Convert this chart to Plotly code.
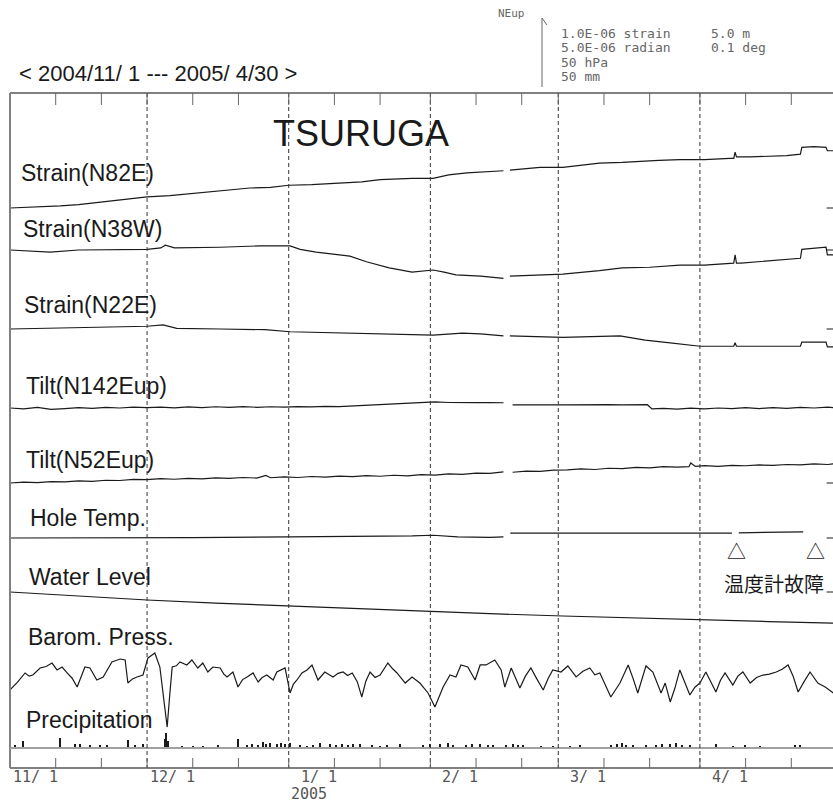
import plotly.graph_objects as go

W, H = 833, 804
PLOT_L = 10
PX_PER_DAY = 4.569
X_MAX = (W - PLOT_L) / PX_PER_DAY

# ---------------- axis data (days since 2004-11-01) ----------------
MONTH_DAYS = [0, 30, 61, 92, 120, 151]
MONTH_LABELS = ["11/\u00a01", "12/\u00a01", "\u00a01/\u00a01", "\u00a02/\u00a01", "\u00a03/\u00a01", "\u00a04/\u00a01"]
TICK_DAYS = [10, 20, 30, 40, 50, 61, 71, 81, 92, 102, 112, 120, 130, 140, 151, 161, 171]
YEAR_LABEL_DAY = 61
YEAR_LABEL = "2005"

# ---------------- series ----------------
# strain in 1e-6
N82E_DAYS = [0, 5, 11, 15, 20, 25, 30, 35, 41.6, 47, 52.5, 57, 61, 66, 72, 77, 81, 88, 92.6, 96, 100, 104, 108,
             108.7, 109.4, 113, 116, 121, 125, 129, 134, 138, 142, 146.6, 152, 157.6, 158.4, 158.7, 159.0,
             162, 166, 170, 173.0, 173.3, 176, 178.6, 178.9, 180.2]
N82E_VALS = [0.00, 0.01, 0.03, 0.05, 0.09, 0.12, 0.16, 0.18, 0.22, 0.25, 0.29, 0.30, 0.33, 0.34, 0.36, 0.38,
             0.41, 0.43, 0.43, 0.48, 0.51, 0.53, 0.54,
             None, 0.55, 0.57, 0.59, 0.59, 0.62, 0.65, 0.66, 0.68, 0.69, 0.70, 0.70, 0.72, 0.72, 0.81, 0.74,
             0.74, 0.75, 0.76, 0.78, 0.88, 0.89, 0.88, 0.83, 0.83]

N38W_DAYS = [0, 4.4, 8.8, 15, 24, 30, 33, 34, 36, 46, 54.7, 61.3, 63.5, 67, 70.7, 74.4, 78, 83, 88, 92.6, 95,
             97.6, 103, 108, 108.7, 109.4, 116, 121, 129, 134, 140, 146.6, 152, 157.6, 158.4, 158.7, 159.0,
             160, 166, 173.0, 173.3, 176, 178.6, 178.9, 180.2]
N38W_VALS = [0.00, -0.01, -0.03, 0.00, 0.00, 0.01, 0.03, 0.07, 0.03, 0.04, 0.06, 0.06, 0.01, -0.03, -0.06,
             -0.09, -0.17, -0.26, -0.32, -0.29, -0.32, -0.36, -0.38, -0.41, None, -0.38, -0.36, -0.35,
             -0.30, -0.26, -0.25, -0.22, -0.22, -0.19, -0.19, -0.07, -0.19, -0.19, -0.16, -0.12, 0.01,
             0.03, 0.04, -0.07, -0.07]

N22E_DAYS = [0, 9, 20, 30, 33.5, 36.5, 46, 55.8, 61.3, 72, 81, 89.7, 92.6, 99, 103, 108, 108.7, 109.4, 121,
             133.5, 139, 144.5, 151, 157.6, 158.4, 158.7, 159.0, 165, 173.0, 173.3, 178.6, 178.9, 180.2]
N22E_VALS = [0.00, 0.01, 0.03, 0.04, 0.06, 0.01, 0.00, -0.01, -0.04, -0.06, -0.07, -0.09, -0.09, -0.06,
             -0.07, -0.10, None, -0.10, -0.12, -0.10, -0.16, -0.20, -0.25, -0.25, -0.25, -0.20, -0.25,
             -0.25, -0.25, -0.19, -0.19, -0.26, -0.26]

# tilt in 1e-6 radian
N142E_DAYS = [0, 3, 6, 9, 12, 15, 18, 21, 24, 27, 30, 33, 36, 39, 42, 45, 48, 51, 54, 57, 60, 63, 66, 69,
              72, 75, 78, 81, 84, 87, 90, 93, 96, 99, 102, 105, 108, 108.7, 110, 113, 116, 119, 122, 125,
              128, 131, 134, 137, 139.5, 140.5, 143, 146, 149, 152, 155, 158, 161, 164, 167, 170, 173,
              176, 179, 180.2]
N142E_VALS = [0.00, -0.06, 0.05, -0.10, -0.04, 0.03, -0.03, 0.05, 0.00, 0.06, 0.02, 0.07, 0.01, 0.08,
              0.03, 0.09, 0.04, 0.10, 0.05, 0.09, 0.06, 0.10, 0.08, 0.12, 0.10, 0.15, 0.17, 0.22, 0.26,
              0.32, 0.38, 0.44, 0.40, 0.42, 0.39, 0.40, 0.38, None, 0.22, 0.24, 0.21, 0.23, 0.22, 0.24,
              0.21, 0.25, 0.23, 0.26, 0.24, -0.07, -0.02, -0.08, -0.01, -0.06, 0.00, -0.05, 0.02, -0.04,
              0.03, -0.02, 0.05, 0.00, 0.07, 0.03]

N52E_DAYS = [0, 3, 6, 9, 12, 15, 18, 21, 24, 27, 30, 33, 36, 39, 42, 45, 48, 51, 54, 56, 57, 60, 63, 66,
             69, 72, 75, 78, 81, 84, 87, 90, 93, 96, 99, 102, 105, 108, 108.7, 110, 113, 116, 119, 122,
             125, 128, 131, 134, 137, 140, 143, 146, 148.6, 149, 150, 152, 155, 158, 161, 164, 167, 170,
             173, 176, 179, 180.2]
N52E_VALS = [0.00, 0.06, 0.02, 0.10, 0.08, 0.16, 0.12, 0.20, 0.18, 0.26, 0.24, 0.31, 0.27, 0.33, 0.30,
             0.37, 0.33, 0.40, 0.36, 0.55, 0.38, 0.44, 0.40, 0.47, 0.43, 0.50, 0.46, 0.53, 0.49, 0.56,
             0.52, 0.60, 0.57, 0.66, 0.63, 0.72, 0.70, 0.80, None, 0.78, 0.86, 0.84, 0.93, 0.95, 1.02,
             0.98, 1.07, 1.04, 1.13, 1.10, 1.18, 1.15, 1.18, 1.45, 1.20, 1.26, 1.20, 1.28, 1.25, 1.31,
             1.27, 1.34, 1.31, 1.38, 1.34, 1.39]

# hole temperature change in deg
TEMP_DAYS = [0, 20, 40, 61, 75, 88, 92.6, 98, 105, 108, 108.7, 109.5, 130, 152, 158, 158.7, 159.5, 166, 173.6]
TEMP_VALS = [0.0000, 0.0000, 0.0005, 0.0015, 0.0020, 0.0030, 0.0040, 0.0015, 0.0010, 0.0015, None,
             0.0070, 0.0075, 0.0070, 0.0072, None, 0.0075, 0.0080, 0.0090]

# water level change in m
WATER_DAYS = [0, 15, 30, 45, 61, 75, 90, 105, 121, 136, 152, 166, 180.2]
WATER_VALS = [0.00, -0.30, -0.58, -0.80, -1.01, -1.20, -1.38, -1.57, -1.74, -1.89, -2.03, -2.14, -2.25]

# barometric pressure in hPa
BARO_DAYS = [0.0, 1.6, 3.3, 4.2, 5.0, 6.6, 7.9, 9.2, 10.3, 11.4, 12.5, 13.6, 14.7, 15.6, 16.4, 17.5, 19.0,
             20.4, 21.4, 22.3, 24.1, 25.2, 25.8, 26.8, 27.8, 29.1, 30.2, 31.7, 32.8, 33.6, 34.4, 35.0,
             35.5, 36.4, 37.2, 38.7, 39.8, 41.1, 42.2, 43.3, 44.4, 46.0, 46.8, 47.5, 48.8, 49.9, 50.9,
             51.9, 53.2, 54.3, 55.2, 56.2, 57.6, 58.4, 60.2, 61.3, 62.0, 62.8, 63.9, 65.0, 66.1, 67.4,
             68.9, 70.7, 71.8, 72.9, 73.9, 74.9, 76.0, 77.0, 77.9, 78.8, 79.9, 81.0, 82.7, 83.7, 84.7,
             86.5, 88.0, 89.7, 91.5, 93.0, 94.8, 96.3, 97.6, 98.7, 100.2, 101.8, 102.9, 104.2, 106.1,
             107.5, 108.3, 109.7, 110.6, 111.6, 112.8, 114.0, 115.3, 116.7, 117.8, 118.8, 120.6, 122.1,
             123.9, 125.4, 126.9, 128.0, 129.1, 130.3, 131.5, 133.5, 135.3, 136.4, 137.4, 139.2, 140.7,
             142.5, 143.4, 144.5, 145.5, 146.6, 147.7, 148.8, 149.9, 151.0, 152.3, 154.5, 155.5, 156.5,
             158.2, 159.3, 160.4, 162.0, 163.4, 164.8, 166.2, 167.7, 169.0, 170.3, 171.4, 172.5, 173.8,
             175.1, 176.8, 178.5, 180.2]
BARO_VALS = [1002.0, 1007.5, 1014.3, 1012.0, 1012.8, 1017.9, 1019.0, 1021.5, 1016.5, 1018.6, 1014.3,
             1010.5, 1004.1, 1012.0, 1018.6, 1017.9, 1009.2, 1011.4, 1017.5, 1022.3, 1024.4, 1023.7,
             1007.0, 1010.0, 1011.4, 1012.8, 1025.2, 1028.8, 1018.6, 998.0, 975.1, 1000.0, 1018.6,
             1019.5, 1022.3, 1020.1, 1023.7, 1017.9, 1021.5, 1015.0, 1018.6, 1017.9, 1013.5, 1011.4,
             1015.0, 1004.1, 1009.5, 1011.4, 1014.3, 1007.8, 1011.0, 1012.8, 1009.2, 1015.0, 1017.9,
             999.8, 1006.0, 1009.2, 1014.3, 1016.5, 1020.1, 1009.2, 1015.0, 1011.4, 1014.0, 1015.0,
             1012.5, 1014.3, 1008.0, 996.9, 1008.5, 1015.0, 1011.0, 1012.8, 1021.5, 1017.5, 1014.3,
             1007.0, 1011.4, 1007.0, 999.8, 989.6, 1004.1, 1012.8, 1011.4, 1020.1, 1018.6, 1009.2,
             1020.1, 1020.1, 1023.7, 1016.5, 1004.1, 1017.9, 1011.0, 1003.4, 1012.0, 1017.9, 1010.0,
             1002.0, 1010.5, 1016.5, 1015.0, 1019.4, 1011.4, 1015.5, 1017.9, 1013.0, 1014.3, 1005.0,
             996.9, 1007.0, 1020.1, 1010.0, 999.8, 1019.4, 1015.0, 999.8, 1007.0, 993.3, 1003.0, 1016.5,
             1008.0, 998.3, 1004.0, 1007.0, 1015.0, 1000.5, 1009.0, 1014.3, 1005.6, 1012.0, 1015.0,
             1007.0, 1011.0, 1012.8, 1013.5, 1015.0, 1017.0, 1020.1, 1012.0, 1000.5, 1008.0, 1015.0,
             1007.0, 1004.0, 999.8]

# precipitation in mm
PRECIP_DAYS = [1.1, 2.8, 10.9, 14.2, 15.3, 17.5, 19.7, 21.2, 25.8, 27.4, 29.1, 33.9, 34.1, 34.6, 37.6,
               40.1, 42.2, 45.5, 49.9, 51.9, 53.0, 54.3, 55.4, 56.0, 56.9, 58.4, 59.3, 60.2, 61.3, 63.5,
               65.0, 66.3, 67.8, 70.0, 71.4, 72.7, 74.0, 75.1, 76.6, 79.2, 81.0, 82.5, 85.4, 90.4, 91.9,
               94.1, 95.9, 97.0, 99.8, 101.1, 102.9, 104.6, 105.7, 108.6, 110.1, 111.2, 112.3, 116.2,
               118.8, 122.6, 124.8, 131.5, 132.9, 134.0, 134.8, 136.4, 139.2, 141.4, 142.7, 144.5,
               145.8, 147.1, 148.8, 154.5, 158.2, 160.9, 164.1, 171.8, 172.9]
PRECIP_VALS = [1.5, 4.0, 6.5, 2.0, 2.5, 1.5, 1.5, 1.5, 5.0, 1.5, 2.0, 6.0, 10.0, 4.0, 1.0, 1.0, 1.0, 1.5,
               6.0, 1.5, 2.0, 1.5, 3.5, 2.5, 3.0, 2.0, 3.0, 2.5, 3.0, 1.5, 1.0, 1.5, 3.0, 2.0, 1.5, 2.0,
               1.5, 2.0, 2.5, 1.5, 1.0, 1.5, 2.0, 1.5, 2.0, 2.5, 3.0, 1.5, 1.5, 2.0, 2.0, 1.5, 1.5, 1.5,
               2.5, 1.5, 1.5, 1.0, 1.0, 1.0, 1.5, 1.5, 2.0, 3.0, 1.5, 1.5, 1.5, 1.5, 2.5, 2.0, 3.0, 1.5,
               1.5, 2.0, 1.0, 1.5, 1.0, 1.5, 1.5]

FAILURE_DAYS = [158.9, 176.2]
FAILURE_TEXT = "温度計故障"

# ---------------- track layout ----------------
SCALE_PX = 69.0  # length of the scale arrow
# (label, days, values, reference value, pixel row of reference, units per arrow, label pos, ref mark)
TRACKS = [
    ("Strain(N82E)", N82E_DAYS, N82E_VALS, 0.0, 208, 1.0, (19, 173), True),
    ("Strain(N38W)", N38W_DAYS, N38W_VALS, 0.0, 250, 1.0, (21, 229), True),
    ("Strain(N22E)", N22E_DAYS, N22E_VALS, 0.0, 329, 1.0, (22, 305), True),
    ("Tilt(N142Eup)", N142E_DAYS, N142E_VALS, 0.0, 408, 5.0, (24, 386), False),
    ("Tilt(N52Eup)", N52E_DAYS, N52E_VALS, 0.0, 483, 5.0, (24, 460), True),
    ("Hole Temp.", TEMP_DAYS, TEMP_VALS, 0.0, 538, 0.1, (28, 518), True),
    ("Water Level", WATER_DAYS, WATER_VALS, 0.0, 592, 5.0, (27, 577), True),
    ("Barom. Press.", BARO_DAYS, BARO_VALS, 1015.0, 672, 50.0, (26, 637), False),
    ("Precipitation", PRECIP_DAYS, PRECIP_VALS, 0.0, 747, 50.0, (24, 720), False),
]

FRAME_TOP, FRAME_BOTTOM, PRECIP_BASE = 93, 768, 748
INK = "#1a1a1a"
GRAY = "#666666"


def py(p):  # pixel row -> paper y
    return 1 - p / H


def px(p):  # pixel column -> paper x
    return (p - PLOT_L) / (W - PLOT_L)


fig = go.Figure()
layout_axes = {}
for i, (name, days, vals, ref, base, units, lpos, mark) in enumerate(TRACKS):
    k = SCALE_PX / units
    ax_id = "y" if i == 0 else f"y{i + 1}"
    ax_key = "yaxis" if i == 0 else f"yaxis{i + 1}"
    ax = dict(range=[ref - (H - base) / k, ref + base / k], visible=False, fixedrange=True)
    if i > 0:
        ax["overlaying"] = "y"
    layout_axes[ax_key] = ax
    if name == "Precipitation":
        fig.add_trace(go.Bar(x=days, y=vals, yaxis=ax_id, width=0.5, marker=dict(color=INK, line_width=0),
                             showlegend=False, hoverinfo="skip"))
    else:
        fig.add_trace(go.Scatter(x=days, y=vals, yaxis=ax_id, mode="lines", connectgaps=False,
                                 line=dict(color=INK, width=1.2), showlegend=False, hoverinfo="skip"))
    if mark:
        fig.add_trace(go.Scatter(x=[X_MAX - 1.4, X_MAX], y=[ref, ref], yaxis=ax_id, mode="lines",
                                 line=dict(color=INK, width=1), showlegend=False, hoverinfo="skip"))

annotations = []
for name, days, vals, ref, base, units, (lx, ly), mark in TRACKS:
    annotations.append(dict(text=name, x=px(lx), y=py(ly), xref="paper", yref="paper", xanchor="left",
                            yanchor="middle", showarrow=False,
                            font=dict(family="Liberation Sans, Arial", size=23, color=INK)))

annotations.append(dict(text="TSURUGA", x=px(271), y=py(133), xref="paper", yref="paper", xanchor="left",
                        yanchor="middle", showarrow=False,
                        font=dict(family="Liberation Sans, Arial", size=36, color=INK)))
annotations.append(dict(text="<\u00a02004/11/\u00a01\u00a0---\u00a02005/\u00a04/30\u00a0>", x=px(17), y=py(74),
                        xref="paper", yref="paper", xanchor="left", yanchor="middle", showarrow=False,
                        font=dict(family="Liberation Sans, Arial", size=22, color=INK)))

MONO = "DejaVu Sans Mono, Liberation Mono, monospace"
legend_lines = [("1.0E-06\u00a0strain", 34), ("5.0E-06\u00a0radian", 48), ("50\u00a0hPa", 62), ("50\u00a0mm", 76)]
for t, yy in legend_lines:
    annotations.append(dict(text=t, x=px(559), y=py(yy), xref="paper", yref="paper", xanchor="left",
                            yanchor="middle", showarrow=False, font=dict(family=MONO, size=13, color=GRAY)))
for t, yy in [("5.0\u00a0m", 34), ("0.1\u00a0deg", 48)]:
    annotations.append(dict(text=t, x=px(709), y=py(yy), xref="paper", yref="paper", xanchor="left",
                            yanchor="middle", showarrow=False, font=dict(family=MONO, size=13, color=GRAY)))
annotations.append(dict(text="NEup", x=px(496), y=py(14), xref="paper", yref="paper", xanchor="left",
                        yanchor="middle", showarrow=False, font=dict(family=MONO, size=11, color=GRAY)))

for d, lab in zip(MONTH_DAYS, MONTH_LABELS):
    annotations.append(dict(text=lab, x=d, y=py(777), xref="x", yref="paper", xanchor="left", xshift=1,
                            yanchor="middle", showarrow=False, font=dict(family=MONO, size=15, color="#555555")))
annotations.append(dict(text=YEAR_LABEL, x=YEAR_LABEL_DAY, y=py(794), xref="x", yref="paper", xanchor="left",
                        xshift=0, yanchor="middle", showarrow=False,
                        font=dict(family=MONO, size=15, color="#555555")))

for d in FAILURE_DAYS:
    annotations.append(dict(text="△", x=d, y=py(550), xref="x", yref="paper", xanchor="center",
                            yanchor="middle", showarrow=False,
                            font=dict(family="Noto Sans CJK JP", size=19, color=INK)))
annotations.append(dict(text=FAILURE_TEXT, x=px(722), y=py(583), xref="paper", yref="paper", xanchor="left",
                        yanchor="middle", showarrow=False,
                        font=dict(family="Noto Sans CJK JP", size=20, color=INK)))

shapes = []
FRAME = "#808080"
shapes.append(dict(type="line", xref="paper", yref="paper", x0=0, x1=1, y0=py(FRAME_TOP), y1=py(FRAME_TOP),
                   line=dict(color=FRAME, width=2)))
shapes.append(dict(type="line", xref="paper", yref="paper", x0=0, x1=1, y0=py(FRAME_BOTTOM),
                   y1=py(FRAME_BOTTOM), line=dict(color=FRAME, width=2)))
shapes.append(dict(type="line", xref="paper", yref="paper", x0=0, x1=0, y0=py(FRAME_TOP), y1=py(FRAME_BOTTOM),
                   line=dict(color=FRAME, width=2)))
shapes.append(dict(type="line", xref="paper", yref="paper", x0=0, x1=1, y0=py(PRECIP_BASE),
                   y1=py(PRECIP_BASE), line=dict(color="#a0a0a0", width=2)))
for d in MONTH_DAYS[1:]:
    shapes.append(dict(type="line", xref="x", yref="paper", x0=d, x1=d, y0=py(FRAME_TOP), y1=py(FRAME_BOTTOM),
                       line=dict(color="#333333", width=1, dash="4px,3px")))
for d in TICK_DAYS:
    shapes.append(dict(type="line", xref="x", yref="paper", x0=d, x1=d, y0=py(FRAME_TOP), y1=py(FRAME_TOP + 12),
                       line=dict(color=GRAY, width=1)))
    shapes.append(dict(type="line", xref="x", yref="paper", x0=d, x1=d, y0=py(FRAME_BOTTOM - 10),
                       y1=py(FRAME_BOTTOM), line=dict(color=GRAY, width=1)))
# scale arrow
shapes.append(dict(type="line", xref="paper", yref="paper", x0=px(542), x1=px(542), y0=py(87), y1=py(18),
                   line=dict(color=GRAY, width=1)))
shapes.append(dict(type="line", xref="paper", yref="paper", x0=px(542), x1=px(547), y0=py(18), y1=py(25),
                   line=dict(color=GRAY, width=1)))

fig.update_layout(
    width=W, height=H,
    margin=dict(l=PLOT_L, r=0, t=0, b=0, pad=0, autoexpand=False),
    paper_bgcolor="white", plot_bgcolor="white",
    xaxis=dict(range=[0, X_MAX], visible=False, fixedrange=True),
    showlegend=False,
    annotations=annotations,
    shapes=shapes,
    bargap=0,
    **layout_axes,
)

fig.write_html("out.html", config={"displayModeBar": False, "staticPlot": True},
               post_script="document.body.style.margin='0';")
